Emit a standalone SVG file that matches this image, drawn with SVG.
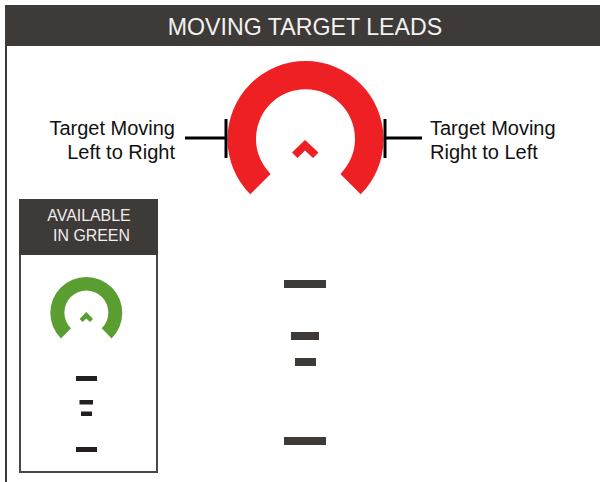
<svg xmlns="http://www.w3.org/2000/svg" width="600" height="482" viewBox="0 0 600 482">
<style>
.dk{fill:#3e3a37}
.bar{fill:#231f20}
.red{fill:#ee2024}
.grn{fill:#5a9e32}
.tick{stroke:#000;stroke-width:3;fill:none}
text{font-family:"Liberation Sans",Arial,sans-serif}
.lbl{font-size:20px;fill:#111}
.wt{fill:#eeeeee;font-size:15.900px;text-anchor:middle}
</style>
<rect width="600" height="482" fill="#fff"/>
<g id="frame">
<rect class="dk" x="5" y="5" width="595" height="41"/>
<rect class="dk" x="5" y="46" width="2" height="436"/>
<text x="305" y="35" font-size="23.200" fill="#f2f2f2" text-anchor="middle">MOVING TARGET LEADS</text>
</g>
<g id="reticle-red">
<path class="red" d="M250.300 194.200A78 78 0 1 1 360.700 194.200L340.400 173.900A49.500 49.500 0 1 0 270.600 173.900Z"/>
<path class="red" d="M305 140L318.500 152.500L313 158L305 150.500L297.500 158L292 152.500Z"/>
</g>
<g id="connectors">
<path class="tick" d="M185 138H226M226 119V158M422 138H385M385 119V158"/>
</g>
<g id="label-left">
<text class="lbl" x="175" y="135" text-anchor="end">Target Moving</text>
<text class="lbl" x="175" y="159" text-anchor="end">Left to Right</text>
</g>
<g id="label-right">
<text class="lbl" x="430" y="135">Target Moving</text>
<text class="lbl" x="430" y="159">Right to Left</text>
</g>
<g id="leads">
<rect class="dk" x="284" y="280" width="42" height="8"/>
<rect class="dk" x="291" y="332" width="28" height="8"/>
<rect class="dk" x="295" y="358" width="21" height="8"/>
<rect class="dk" x="284" y="437" width="42" height="8"/>
</g>
<g id="green-box">
<rect x="20" y="200" width="137" height="272" fill="#fff" stroke="#4a4643" stroke-width="2"/>
<rect class="dk" x="19" y="199" width="139" height="56"/>
<text class="wt" x="89" y="221">AVAILABLE</text>
<text class="wt" x="91.500" y="241">IN GREEN</text>
<path class="grn" d="M61 338.500A36 36 0 1 1 111.600 338.500L101.700 328.300A22 22 0 1 0 71 328.300Z"/>
<path class="grn" d="M86.300 312L93 319L90 322L86.300 318.500L82.600 322L79.600 319Z"/>
<rect class="bar" x="76" y="376" width="21" height="5"/>
<rect class="bar" x="79.500" y="400" width="13.500" height="4.500"/>
<rect class="bar" x="81" y="411.500" width="11" height="4.500"/>
<rect class="bar" x="76" y="447" width="21" height="5"/>
</g>
</svg>
